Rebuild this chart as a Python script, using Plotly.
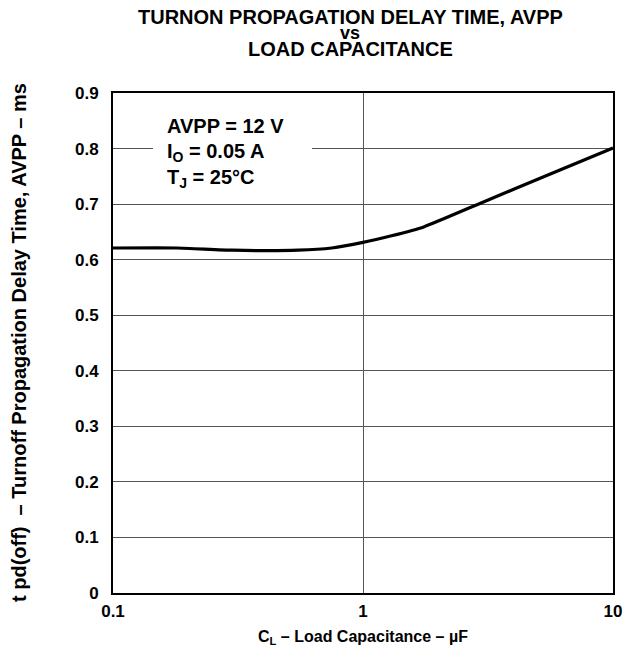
import plotly.graph_objects as go

# Data
cap_uF = [0.1, 0.18, 0.3, 0.55, 0.75, 1.0, 1.3, 1.75, 3.0, 5.4, 10.0]
delay_ms = [0.621, 0.621, 0.617, 0.617, 0.621, 0.631, 0.643, 0.659, 0.703, 0.751, 0.801]

x_ticks = [0.1, 1, 10]
x_tick_labels = ["0.1", "1", "10"]
y_ticks = [0, 0.1, 0.2, 0.3, 0.4, 0.5, 0.6, 0.7, 0.8, 0.9]
y_tick_labels = ["0", "0.1", "0.2", "0.3", "0.4", "0.5", "0.6", "0.7", "0.8", "0.9"]

title_lines = ["TURNON PROPAGATION DELAY TIME, AVPP", "vs", "LOAD CAPACITANCE"]
cond_lines = ["AVPP = 12 V", "I<sub>O</sub> = 0.05 A", "T<sub>J</sub> = 25°C"]
x_title = "C<sub>L</sub> – Load Capacitance – µF"
y_title = "t pd(off)  – Turnoff Propagation Delay Time, AVPP – ms"

# The page body has an 8px margin, so the figure is drawn 8px in from the window edge.
BODY = 8
W, H = 634 - 2 * BODY, 656 - 2 * BODY
PLOT_L, PLOT_R, PLOT_T, PLOT_B = 113, 613, 93, 593   # window pixels of the plot area
L = PLOT_L - BODY
T = PLOT_T - BODY
R = W - (PLOT_R - BODY)
B = H - (PLOT_B - BODY)
FONT = "Liberation Sans, Arial, sans-serif"

def px_x(px):
    return (px - PLOT_L) / (PLOT_R - PLOT_L)

def px_y(py):
    return (PLOT_B - py) / (PLOT_B - PLOT_T)

fig = go.Figure()
fig.add_trace(go.Scatter(x=cap_uF, y=delay_ms, mode="lines",
                         line=dict(color="black", width=3.2, shape="spline", smoothing=0.5),
                         hoverinfo="skip", showlegend=False))

fig.update_layout(
    width=W, height=H,
    margin=dict(l=L, r=R, t=T, b=B, autoexpand=False),
    paper_bgcolor="white", plot_bgcolor="white",
    font=dict(family=FONT, color="black"),
    showlegend=False,
)
fig.update_xaxes(
    type="log", range=[-1, 1], automargin=False,
    tickvals=x_ticks, ticktext=x_tick_labels,
    tickfont=dict(size=17, family=FONT, color="black", weight="bold"),
    showgrid=True, gridcolor="#555555", gridwidth=1,
    showline=True, linecolor="black", linewidth=2, mirror=True,
    ticks="", zeroline=False, ticklabelstandoff=2,
)
fig.update_yaxes(
    range=[0, 0.9], automargin=False,
    tickvals=y_ticks, ticktext=y_tick_labels,
    tickfont=dict(size=17, family=FONT, color="black", weight="bold"),
    showgrid=True, gridcolor="#555555", gridwidth=1,
    showline=True, linecolor="black", linewidth=2, mirror=True,
    ticks="", zeroline=False, ticklabelstandoff=9,
)

# white box behind the conditions text
fig.add_shape(type="rect", xref="paper", yref="paper",
              x0=px_x(153), x1=px_x(312), y0=px_y(194), y1=px_y(106),
              fillcolor="white", line=dict(width=0), layer="above")

title_y = [17, 33, 49]
title_size = [20, 18, 20]
for txt, yy, sz in zip(title_lines, title_y, title_size):
    fig.add_annotation(text="<b>" + txt + "</b>", xref="paper", yref="paper",
                       x=px_x(350), y=px_y(yy), showarrow=False,
                       xanchor="center", yanchor="middle",
                       font=dict(size=sz, family=FONT, color="black"))

cond_y = [126, 152, 178]
for txt, yy in zip(cond_lines, cond_y):
    fig.add_annotation(text="<b>" + txt + "</b>", xref="paper", yref="paper",
                       x=px_x(165), y=px_y(yy), showarrow=False,
                       xanchor="left", yanchor="middle",
                       font=dict(size=20, family=FONT, color="black"))

fig.add_annotation(text="<b>" + x_title + "</b>", xref="paper", yref="paper",
                   x=px_x(363), y=px_y(637), showarrow=False,
                   xanchor="center", yanchor="middle",
                   font=dict(size=16, family=FONT, color="black"))
fig.add_annotation(text="<b>" + y_title + "</b>", xref="paper", yref="paper",
                   x=px_x(19), y=px_y(343), showarrow=False, textangle=-90,
                   xanchor="center", yanchor="middle",
                   font=dict(size=20, family=FONT, color="black"))

fig.write_html("out.html")
